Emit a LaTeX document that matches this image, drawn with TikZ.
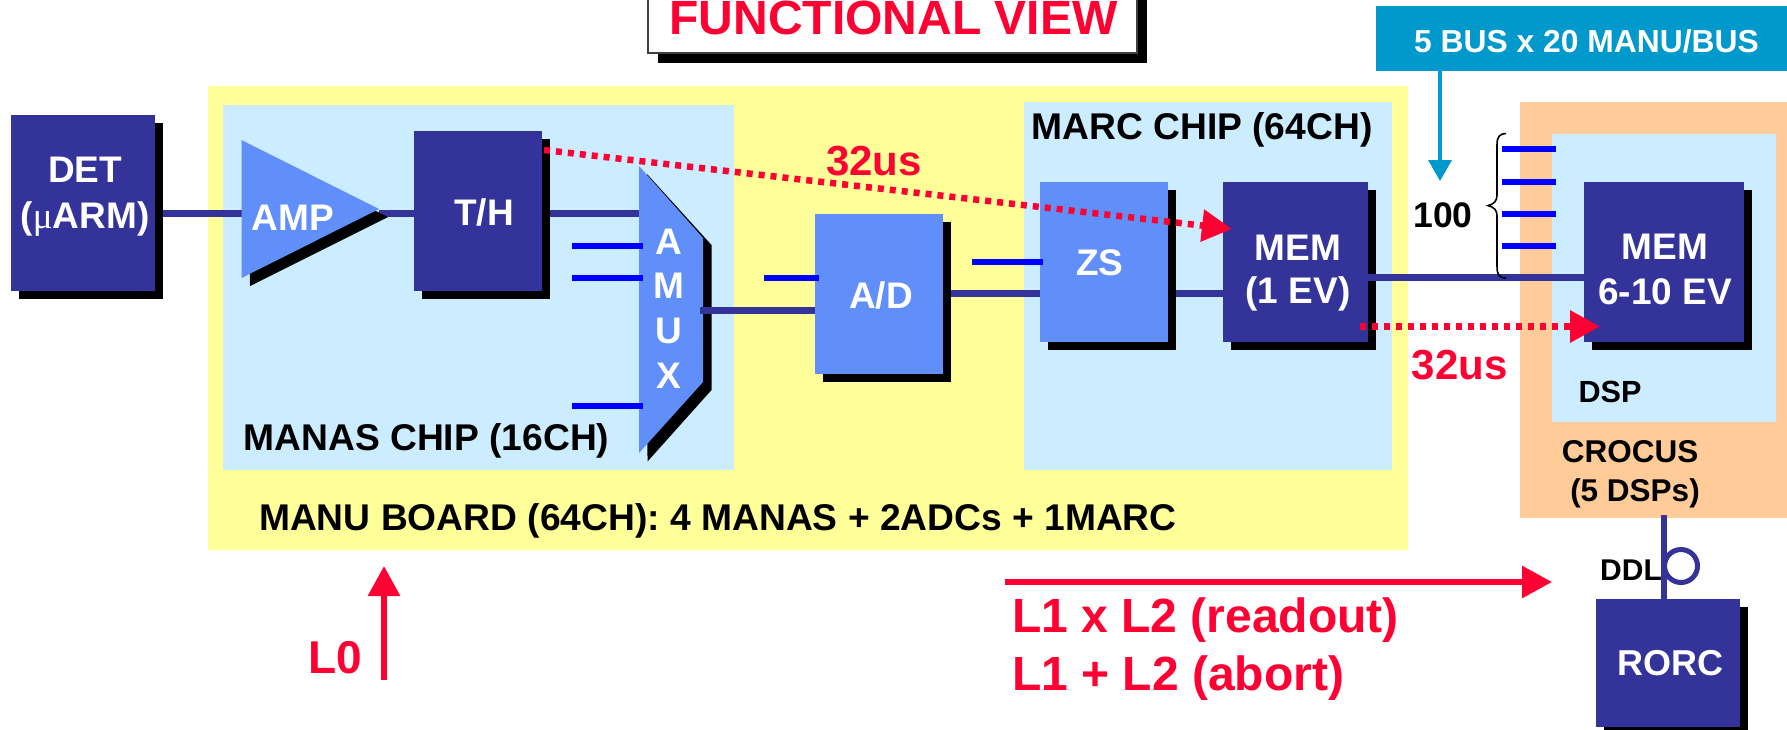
\documentclass[tikz,border=0pt]{standalone}
\usepackage{fontspec}
\setmainfont{Liberation Sans}
\newfontfamily\serifmu{Liberation Serif}
\usetikzlibrary{arrows.meta,shadows,calc}
\definecolor{dk}{RGB}{51,51,153}
\definecolor{md}{RGB}{97,143,250}
\definecolor{lt}{RGB}{204,236,255}
\definecolor{yl}{RGB}{255,255,153}
\definecolor{og}{RGB}{255,204,153}
\definecolor{tl}{RGB}{0,153,204}
\definecolor{rd}{RGB}{255,0,51}
\definecolor{bl}{RGB}{0,0,255}
\tikzset{
  x=1pt,y=-1pt,
  panel/.style={anchor=north west,inner sep=0pt,outer sep=0pt,draw=none,fill=#1},
  sbox/.style={panel=#1,copy shadow={fill=black,draw=none,shadow xshift=8pt,shadow yshift=-8pt}},
  txt/.code={\pgfmathsetlengthmacro\capht{0.716*#1}%
    \tikzset{font=\bfseries\fontsize{#1}{#1}\selectfont,text height=\capht,text depth=0pt,inner sep=0pt,outer sep=0pt}},
  wire/.style={draw=dk,line width=7pt},
  stub/.style={draw=bl,line width=6.5pt},
  dotarrow/.style={draw=rd,line width=6.5pt,dash pattern=on 6pt off 6pt,-{Triangle[length=30pt,width=31pt,fill=rd]}},
  solidarrow/.style={draw=rd,line width=6pt,-{Triangle[length=30pt,width=31pt,fill=rd]}},
}
\begin{document}
\begin{tikzpicture}
\useasboundingbox (0,0) rectangle (1787,729);
\fill[white] (0,0) rectangle (1787,729);
% panels
\node[panel=yl,minimum width=1200pt,minimum height=464pt] (manu) at (207.5,86) {};
\node[panel=lt,minimum width=511pt,minimum height=365pt] (manas) at (223,105) {};
\node[panel=lt,minimum width=367.5pt,minimum height=368pt] (marc) at (1024,102) {};
\node[panel=og,minimum width=267pt,minimum height=416pt] (crocus) at (1520,102) {};
\node[panel=lt,minimum width=224pt,minimum height=288pt] (dsp) at (1552,134) {};
\node[panel=tl,minimum width=411pt,minimum height=65pt] (bus) at (1376,6) {};
% title
\node[panel=white,draw=black!75,line width=2pt,minimum width=489pt,minimum height=63pt,
  copy shadow={fill=black,draw=none,shadow xshift=10pt,shadow yshift=-10pt}] (title) at (647.5,-10) {};
% boxes
\node[sbox=dk,minimum width=144pt,minimum height=176pt] (det) at (11,115) {};
\node[sbox=dk,minimum width=128pt,minimum height=160pt] (th) at (414,131) {};
\node[sbox=md,minimum width=128pt,minimum height=160pt] (ad) at (815,214) {};
\node[sbox=md,minimum width=128pt,minimum height=160pt] (zs) at (1040,182) {};
\node[sbox=dk,minimum width=145pt,minimum height=160pt] (mema) at (1223,182) {};
\node[sbox=dk,minimum width=160pt,minimum height=160pt] (memb) at (1584,182) {};
\node[sbox=dk,minimum width=144pt,minimum height=128pt] (rorc) at (1596,598.5) {};
% reference levels and free ends
\coordinate (ampW) at (241.5,209);
\coordinate (ampE) at (379,209);
\coordinate (amuxW) at (639,310);
\coordinate (amuxE) at (703,310);
\coordinate (lvA) at (0,213.7);
\coordinate (lvB) at (0,293.7);
\coordinate (lvC) at (0,277.7);
% wires
\draw[wire] ([xshift=8pt]det.east |- lvA) -- (ampW |- lvA);
\draw[wire] (ampE |- lvA) -- (th.west |- lvA);
\draw[wire] ([xshift=8pt]th.east |- lvA) -- (amuxW |- lvA);
\draw[wire] ([xshift=8pt]ad.east |- lvB) -- (zs.west |- lvB);
\draw[wire] ([xshift=8pt]zs.east |- lvB) -- (mema.west |- lvB);
\draw[wire] (mema.east |- lvC) -- (memb.west |- lvC);
% amp
\fill[black] (249.5,148) -- (388,217) -- (250,286) -- cycle;
\fill[md] (ampW |- 0,140) -- (ampE) -- (ampW |- 0,278) -- cycle;
% amux
\fill[black] (647,174) -- (711.5,245) -- (711.5,390) -- (647.5,461.5) -- cycle;
\fill[md] (639,166) -- (703,238) -- (703,382) -- (639,453) -- cycle;
\draw[wire] ([xshift=-3pt]amuxE) -- (ad.west |- amuxE);
% stubs
\coordinate (sa) at (572,246);
\coordinate (sb) at (572,278);
\coordinate (sc) at (572,406);
\coordinate (sd) at (764,278);
\coordinate (se) at (972,262);
\draw[stub] (sa) -- ([xshift=4pt]amuxW |- sa);
\draw[stub] (sb) -- ([xshift=4pt]amuxW |- sb);
\draw[stub] (sc) -- ([xshift=4pt]amuxW |- sc);
\draw[stub] (sd) -- ([xshift=4pt]ad.west |- sd);
\draw[stub] (se) -- ([xshift=3pt]zs.west |- se);
\foreach \n/\yy in {p/149,q/182,r/214,s/246}{
  \coordinate (b\n) at (1502,\yy);
  \draw[stub] (b\n) -- ([xshift=4pt]dsp.west |- b\n);
}
% brace
\draw[black,line width=1.6pt] (1506,133.5) .. controls (1499,134) and (1497,137) .. (1497,145) -- (1497,195)
  .. controls (1497,201) and (1494,204) .. (1488,205.6)
  .. controls (1494,207) and (1497,210) .. (1497,216) -- (1497,266)
  .. controls (1497,275) and (1499,278) .. (1506,278);
% bus arrow
\coordinate (busT) at (1440,181);
\draw[tl,line width=3.5pt,-{Triangle[length=21pt,width=23pt,fill=tl]}] (bus.south west -| busT) -- (busT);
% red arrows
\coordinate (ra) at (544,150);
\coordinate (rb) at (1232,229);
\draw[dotarrow] (ra) -- (rb);
\coordinate (rc) at (1360,326.5);
\coordinate (rd) at (1600,326.5);
\draw[dotarrow] (rc) -- (rd);
\coordinate (re) at (1005,582);
\coordinate (rf) at (1552,582);
\draw[solidarrow] (re) -- (rf);
\coordinate (rg) at (384,680);
\coordinate (rh) at (384,566);
\draw[solidarrow] (rg) -- (rh);
% DDL
\draw[dk,line width=6.5pt] ([yshift=3pt]crocus.south -| 1664,0) -- (rorc.north -| 1664,0);
\node[draw=dk,line width=5pt,circle,minimum size=33pt,inner sep=0pt] (ddlc) at (1681,566) {};
% text
\node[txt=48,text=rd] (ttl) at (893.5,17.5) {FUNCTIONAL VIEW};
\node[txt=37,text=white] (t1) at (85,169) {DET};
\node[txt=37,text=white] (t2) at (85,215) {({\serifmu\mdseries μ}ARM)};
\node[txt=37,text=white] (t3) at (293,217) {AMP};
\node[txt=37,text=white] (t4) at (484,212) {T/H};
\node[txt=37,text=white] (t5) at (669,241) {A};
\node[txt=37,text=white] (t6) at (669,285) {M};
\node[txt=37,text=white] (t7) at (669,330) {U};
\node[txt=37,text=white] (t8) at (669,375) {X};
\node[txt=37,text=white] (t9) at (881,295) {A/D};
\node[txt=37,text=white] (t10) at (1100,262) {ZS};
\node[txt=37,text=white] (t11) at (1298,247) {MEM};
\node[txt=37,text=white] (t12) at (1298,290) {(1 EV)};
\node[txt=37,text=white] (t13) at (1665,246) {MEM};
\node[txt=37,text=white] (t14) at (1665,291) {6-10 EV};
\node[txt=36,text=white] (t15) at (1670,663) {RORC};
\node[txt=31.8,text=white] (t16) at (1586.5,41) {5 BUS x 20 MANU/BUS};
\node[txt=37.2] (t17) at (426.5,437) {MANAS CHIP (16CH)};
\node[txt=37.2] (t18) at (718,517) {MANU BOARD (64CH): 4 MANAS + 2ADCs + 1MARC};
\node[txt=37.2] (t19) at (1202,126) {MARC CHIP (64CH)};
\node[txt=35.5] (t20) at (1443,215) {100};
\node[txt=30.6] (t21) at (1610,392) {DSP};
\node[txt=31.5] (t22) at (1630,451) {CROCUS};
\node[txt=31.5] (t23) at (1635,490) {(5 DSPs)};
\node[txt=30] (t24) at (1631,570) {DDL};
\node[txt=42,text=rd] (t25) at (874,160) {32us};
\node[txt=42,text=rd] (t26) at (1459.5,364) {32us};
\node[txt=48,text=rd,anchor=west] (t27) at (1012,615) {L1 x L2 (readout)};
\node[txt=48,text=rd,anchor=west] (t28) at (1012,673) {L1 + L2 (abort)};
\node[txt=46,text=rd] (t29) at (335.5,657) {L0};
\end{tikzpicture}
\end{document}
